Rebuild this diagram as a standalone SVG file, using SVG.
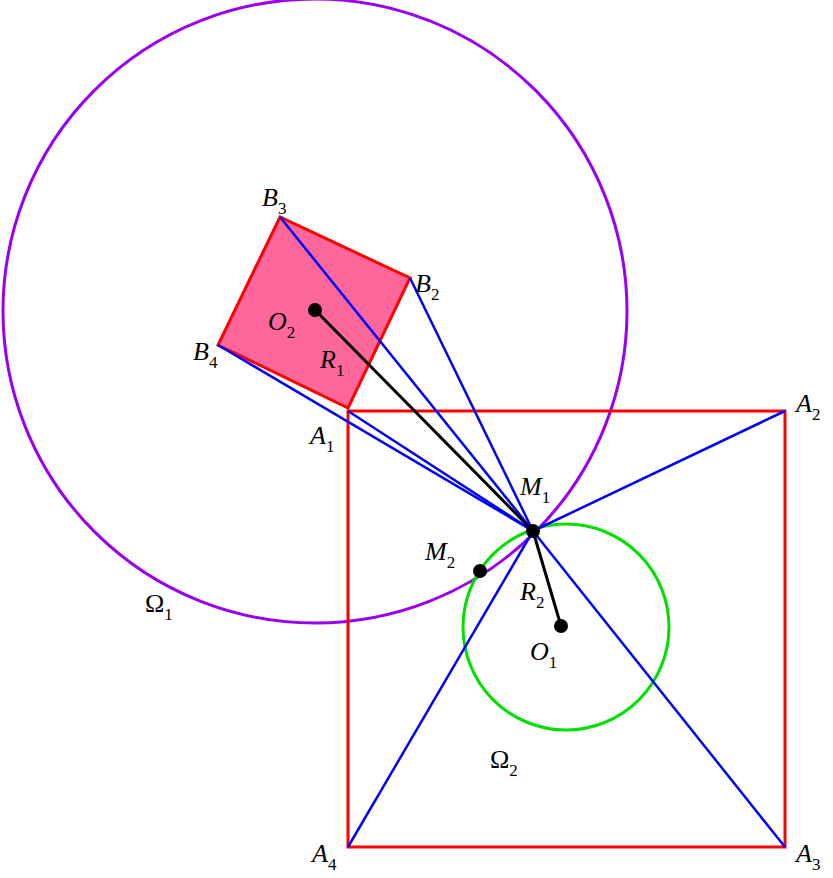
<svg xmlns="http://www.w3.org/2000/svg" width="833" height="878" viewBox="0 0 833 878">
<style>
.l{font-family:"Liberation Serif",serif;font-style:italic;font-size:26px;fill:#000}
.g{font-family:"Liberation Serif",serif;font-size:26px;fill:#000}
.s{font-size:17px;font-style:normal}
.b{stroke:#0000ff;stroke-width:2.5;fill:none}
.k{stroke:#000;stroke-width:3;fill:none}
</style>
<g id="omega1"><circle cx="315" cy="311" r="312" fill="none" stroke="#9a00f0" stroke-width="3"/></g>
<g id="omega2"><circle cx="566" cy="627" r="103" fill="none" stroke="#00e000" stroke-width="3"/></g>
<g id="squareB"><polygon points="348,408 410,278 280,217 218,345" fill="#ff6699" stroke="#ff0000" stroke-width="3"/></g>
<g id="squareA"><polygon points="348,411 785,411 785,847 348,847" fill="none" stroke="#ff0000" stroke-width="3"/></g>
<g id="connectors">
<line class="b" x1="533" y1="531" x2="348" y2="411"/>
<line class="b" x1="533" y1="531" x2="785" y2="411"/>
<line class="b" x1="533" y1="531" x2="785" y2="847"/>
<line class="b" x1="533" y1="531" x2="348" y2="847"/>
<line class="b" x1="533" y1="531" x2="410" y2="278"/>
<line class="b" x1="533" y1="531" x2="280" y2="217"/>
<line class="b" x1="533" y1="531" x2="218" y2="345"/>
<line class="k" x1="533" y1="531" x2="315" y2="310"/>
<line class="k" x1="533" y1="531" x2="561" y2="626"/>
</g>
<g id="points">
<circle cx="533" cy="531" r="7"/><circle cx="480" cy="571" r="7"/>
<circle cx="561" cy="626" r="7"/><circle cx="315" cy="310" r="7"/>
</g>
<g id="labels">
<text class="l" x="262" y="206">B<tspan class="s" dy="8">3</tspan></text>
<text class="l" x="415" y="292">B<tspan class="s" dy="8">2</tspan></text>
<text class="l" x="193" y="360">B<tspan class="s" dy="8">4</tspan></text>
<text class="l" x="268" y="330">O<tspan class="s" dy="8">2</tspan></text>
<text class="l" x="320" y="368">R<tspan class="s" dy="8">1</tspan></text>
<text class="l" x="310" y="444">A<tspan class="s" dy="8">1</tspan></text>
<text class="l" x="796" y="412">A<tspan class="s" dy="8">2</tspan></text>
<text class="l" x="796" y="862">A<tspan class="s" dy="8">3</tspan></text>
<text class="l" x="312" y="862">A<tspan class="s" dy="8">4</tspan></text>
<text class="l" x="520" y="495">M<tspan class="s" dy="8">1</tspan></text>
<text class="l" x="425" y="560">M<tspan class="s" dy="8">2</tspan></text>
<text class="l" x="520" y="600">R<tspan class="s" dy="8">2</tspan></text>
<text class="l" x="530" y="660">O<tspan class="s" dy="8">1</tspan></text>
<text class="g" x="145" y="612">Ω<tspan class="s" dy="8">1</tspan></text>
<text class="g" x="490" y="768">Ω<tspan class="s" dy="8">2</tspan></text>
</g>
</svg>
